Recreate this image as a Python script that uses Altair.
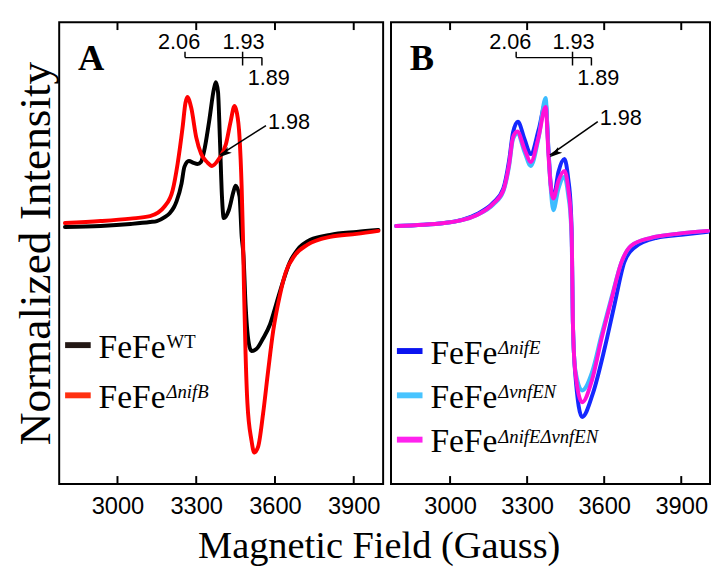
import altair as alt
import pandas as pd

SERIF = "Liberation Serif"
SANS = "Liberation Sans"

# ---------------- data ----------------
# Panel A
wt_field = [2800, 2936, 3050, 3124, 3150, 3180, 3199, 3215, 3225, 3244, 3255, 3272, 3290, 3305, 3318,
            3330, 3349, 3368, 3375, 3383, 3390, 3398, 3405, 3424, 3443, 3450, 3465, 3473, 3480, 3488,
            3499, 3510, 3529, 3555, 3581, 3604, 3630, 3656, 3686, 3735, 3810, 3911, 3994]
wt_int = [0.06, 0.07, 0.09, 0.11, 0.12, 0.16, 0.20, 0.26, 0.32, 0.50, 0.67, 0.73, 0.71, 0.70, 0.72,
          0.83, 1.13, 1.47, 1.53, 1.43, 0.97, 0.37, 0.15, 0.23, 0.43, 0.48, 0.37, -0.03, -0.23, -0.73,
          -1.10, -1.20, -1.18, -1.07, -0.93, -0.73, -0.50, -0.30, -0.17, -0.07, -0.02, 0.01, 0.03]

nifb_field = [2800, 2936, 3050, 3124, 3180, 3210, 3229, 3248, 3259, 3266, 3281, 3300, 3319, 3341, 3360,
              3386, 3413, 3431, 3446, 3454, 3465, 3473, 3478, 3482, 3488, 3495, 3510, 3521, 3536, 3555,
              3574, 3593, 3619, 3641, 3675, 3724, 3810, 3911, 3994]
nifb_int = [0.10, 0.12, 0.145, 0.17, 0.27, 0.43, 0.70, 1.07, 1.32, 1.38, 1.27, 0.97, 0.80, 0.72, 0.68,
            0.75, 0.90, 1.13, 1.29, 1.23, 0.97, 0.47, -0.03, -0.57, -1.23, -1.73, -2.10, -2.23, -2.17, -1.83,
            -1.40, -1.00, -0.63, -0.40, -0.23, -0.12, -0.04, -0.01, 0.02]

# Panel B
nife_field = [2790, 2977, 3103, 3169, 3207, 3230, 3245, 3264, 3290, 3314, 3345, 3372, 3383, 3391, 3402,
              3422, 3445, 3460, 3470, 3474, 3478, 3487, 3514, 3556, 3602, 3640, 3678, 3717, 3805, 3900, 4004]
nife_int = [0.07, 0.10, 0.19, 0.31, 0.45, 0.74, 1.02, 1.13, 0.95, 0.80, 1.05, 1.32, 0.85, 0.52, 0.35,
            0.62, 0.75, 0.55, 0.25, -0.05, -0.90, -1.42, -1.87, -1.63, -1.17, -0.73, -0.30, -0.15, -0.05, -0.02, 0.01]

vnfen_field = [2790, 2977, 3103, 3169, 3207, 3230, 3245, 3262, 3290, 3314, 3345, 3372, 3383, 3391, 3402,
               3422, 3445, 3460, 3470, 3474, 3478, 3487, 3514, 3552, 3590, 3629, 3667, 3705, 3782, 3882, 4004]
vnfen_int = [0.07, 0.10, 0.18, 0.29, 0.42, 0.68, 0.95, 1.01, 0.82, 0.68, 0.97, 1.37, 0.82, 0.48, 0.23,
             0.45, 0.57, 0.38, 0.12, -0.15, -0.90, -1.38, -1.60, -1.42, -1.03, -0.65, -0.30, -0.13, -0.05, -0.01, 0.02]

dbl_field = [2790, 2977, 3103, 3169, 3207, 3230, 3245, 3262, 3290, 3314, 3345, 3372, 3383, 3391, 3402,
             3422, 3445, 3460, 3470, 3474, 3478, 3487, 3514, 3552, 3590, 3629, 3667, 3705, 3782, 3882, 4004]
dbl_int = [0.07, 0.10, 0.18, 0.30, 0.43, 0.70, 0.97, 1.03, 0.85, 0.72, 0.98, 1.28, 0.80, 0.50, 0.35,
           0.53, 0.63, 0.45, 0.17, -0.10, -0.90, -1.40, -1.72, -1.50, -1.07, -0.67, -0.30, -0.13, -0.05, -0.01, 0.02]

tick_values = [3000, 3300, 3600, 3900]
g_ladder = [2.06, 1.93, 1.89]
g_arrow = 1.98
G_FIELD = 6710.0  # g * B (gauss) for the spectrometer frequency

legend_A = [("FeFe", "WT"), ("FeFe", "\u0394nifB")]
legend_B = [("FeFe", "\u0394nifE"), ("FeFe", "\u0394vnfEN"), ("FeFe", "\u0394nifE\u0394vnfEN")]

# ---------------- styling ----------------
H = 469
Y_DOMAIN = [-2.55, 2.14]
LINE_W = 4


def build_panel(series, domain, width, letter, legend_rows, legend_top, legend_step,
                arrow_label_y, show_y_title):
    x_axis = alt.Axis(values=tick_values, ticks=False, domain=False, grid=False,
                      labelFont=SANS, labelFontSize=24, labelColor="black",
                      labelPadding=11, format="d", title=None, labelFlush=False)
    if show_y_title:
        y_axis = alt.Axis(title="Normalized Intensity", labels=False, ticks=False, domain=False,
                          grid=False, minExtent=0, titleFont=SERIF, titleFontSize=46,
                          titleFontWeight="normal", titleColor="black", titlePadding=0)
    else:
        y_axis = None

    def xenc(name):
        return alt.X(f"{name}:Q", scale=alt.Scale(domain=domain, nice=False, zero=False),
                     axis=x_axis)

    def yenc(name):
        return alt.Y(f"{name}:Q", scale=alt.Scale(domain=Y_DOMAIN, nice=False, zero=False),
                     axis=y_axis)

    layers = []
    for fields, vals, color, _sw in series:
        df = pd.DataFrame({"field": fields, "v": vals})
        layers.append(
            alt.Chart(df).mark_line(strokeWidth=LINE_W, interpolate="monotone", clip=True,
                                    color=color, strokeCap="round", strokeJoin="round")
            .encode(x=xenc("field"), y=yenc("v"))
        )

    # inward ticks top and bottom
    tick_df = pd.DataFrame({"field": tick_values})
    layers.append(alt.Chart(tick_df).mark_rule(color="black", strokeWidth=2)
                  .encode(x=xenc("field"), y=alt.value(0), y2=alt.value(8)))
    layers.append(alt.Chart(tick_df).mark_rule(color="black", strokeWidth=2)
                  .encode(x=xenc("field"), y=alt.value(H - 8), y2=alt.value(H)))

    # g-value ladder
    lad = pd.DataFrame({"g": g_ladder, "f": [G_FIELD / g for g in g_ladder],
                        "label": [f"{g:.2f}" for g in g_ladder]})
    hdf = pd.DataFrame({"f1": [lad.f.iloc[0]], "f2": [lad.f.iloc[2]]})
    layers.append(alt.Chart(hdf).mark_rule(color="black", strokeWidth=1.5)
                  .encode(x=xenc("f1"), x2="f2:Q", y=alt.value(36)))
    tick_spans = [(30, 36), (30, 44), (36, 44)]
    label_pos = [(27, -6), (27, 1), (64, 7)]
    for i in range(3):
        row = lad.iloc[[i]]
        a, b = tick_spans[i]
        layers.append(alt.Chart(row).mark_rule(color="black", strokeWidth=1.5)
                      .encode(x=xenc("f"), y=alt.value(a), y2=alt.value(b)))
        ly, ldx = label_pos[i]
        layers.append(alt.Chart(row).mark_text(font=SANS, fontSize=22, color="black",
                                               align="center", baseline="alphabetic", dx=ldx)
                      .encode(x=xenc("f"), y=alt.value(ly), text="label:N"))

    # 1.98 arrow
    adf = pd.DataFrame({"f": [G_FIELD / g_arrow], "label": [f"{g_arrow:.2f}"]})
    tail_x, tail_y, tip_y = 210, arrow_label_y - 2, 137
    layers.append(alt.Chart(adf).mark_rule(color="black", strokeWidth=1.6)
                  .encode(x=xenc("f"), y=alt.value(tip_y - 2), x2=alt.value(tail_x), y2=alt.value(tail_y)))
    layers.append(alt.Chart(adf).mark_point(shape="M0,-1L0.55,1L0,0.55L-0.55,1Z", filled=True,
                                            size=170, color="black", opacity=1, angle=235)
                  .encode(x=xenc("f"), y=alt.value(tip_y), xOffset=alt.value(5), yOffset=alt.value(-3.5)))
    layers.append(alt.Chart(adf).mark_text(font=SANS, fontSize=22, color="black", align="left",
                                           baseline="alphabetic")
                  .encode(x=alt.value(tail_x + 2), y=alt.value(arrow_label_y + 1), text="label:N"))

    # panel letter
    layers.append(alt.Chart(pd.DataFrame({"t": [letter]}))
                  .mark_text(font=SERIF, fontSize=37, fontWeight="bold", color="black",
                             align="left", baseline="alphabetic")
                  .encode(x=alt.value(19), y=alt.value(49), text="t:N"))

    # legend
    for i, (base, sup) in enumerate(legend_rows):
        sw_color = series[i][3]
        sy = legend_top + i * legend_step
        one = pd.DataFrame({"base": [base], "sup": [sup]})
        layers.append(alt.Chart(one).mark_rule(color=sw_color, strokeWidth=6)
                      .encode(x=alt.value(6), x2=alt.value(32), y=alt.value(sy)))
        layers.append(alt.Chart(one).mark_text(font=SERIF, fontSize=34, color="black",
                                               align="left", baseline="alphabetic")
                      .encode(x=alt.value(40), y=alt.value(sy + 13), text="base:N"))
        style = "normal" if sup == "WT" else "italic"
        layers.append(alt.Chart(one).mark_text(font=SERIF, fontSize=19, color="black",
                                               align="left", baseline="alphabetic", fontStyle=style)
                      .encode(x=alt.value(40 + 68 + 1), y=alt.value(sy + 3), text="sup:N"))

    return alt.layer(*layers).properties(width=width, height=H)


seriesA = [(wt_field, wt_int, "#000000", "#231815"),
           (nifb_field, nifb_int, "#ff0000", "#ff3010")]
seriesB = [(nife_field, nife_int, "#1428ff", "#0a14f0"),
           (vnfen_field, vnfen_int, "#3cbcff", "#48c4ff"),
           (dbl_field, dbl_int, "#ff10d8", "#ff22ee")]

panelA = build_panel(seriesA, [2778, 4012], 329, "A", legend_A, 328, 51, 107, True)
panelB = build_panel(seriesB, [2770, 4012], 324, "B", legend_B, 334, 45, 103, False)

chart = (
    alt.hconcat(panelA, panelB, spacing=6)
    .properties(
        title=alt.TitleParams("Magnetic Field (Gauss)", orient="bottom", anchor="middle",
                              font=SERIF, fontSize=39, fontWeight="normal", color="black",
                              offset=8, dx=18),
        padding={"left": 4, "top": 8, "right": 0, "bottom": 0},
    )
    .configure_view(stroke="black", strokeWidth=2)
)

chart.save("out.html", embed_options={"renderer": "svg", "actions": False})
